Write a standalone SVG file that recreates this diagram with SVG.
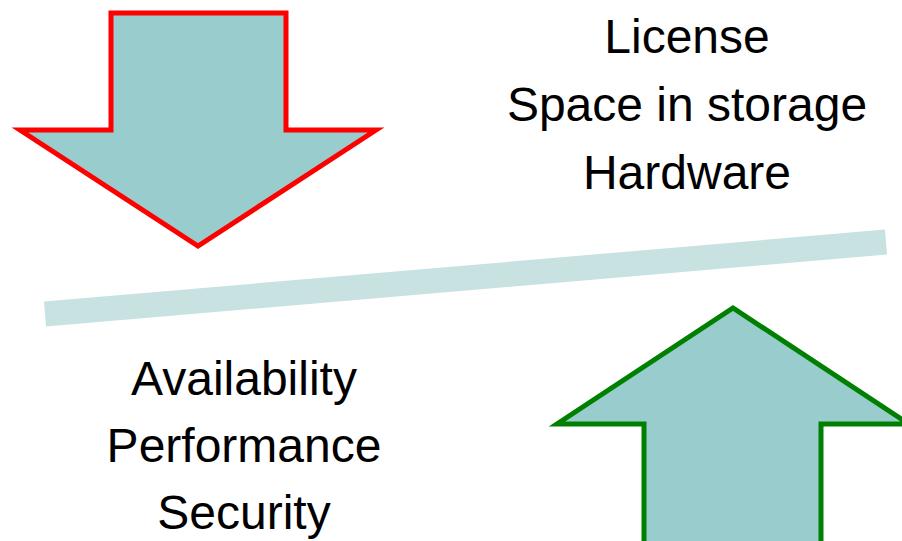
<svg xmlns="http://www.w3.org/2000/svg" width="902" height="541" viewBox="0 0 902 541">
<style>
.arrow{fill:#99CCCC;stroke-width:5;stroke-linejoin:miter;stroke-miterlimit:10}
.lbl{font-family:"Liberation Sans",Arial,sans-serif;font-size:48px;fill:#000;text-anchor:middle}
</style>
<rect width="902" height="541" fill="#fff"/>
<g id="down-arrow">
<polygon class="arrow" stroke="#FF0000" points="111,13 286,13 286,130 376,130 198,246 20,130 111,130"/>
</g>
<g id="up-arrow">
<polygon class="arrow" stroke="#008000" points="644,545 821,545 821,424 909,424 733,308 557,424 644,424"/>
</g>
<g id="balance-bar">
<line x1="45" y1="314" x2="886" y2="242" stroke="#C8E2E2" stroke-width="25"/>
</g>
<g id="costs">
<text class="lbl" x="687" y="53">License</text>
<text class="lbl" x="687" y="121">Space in storage</text>
<text class="lbl" x="687" y="189">Hardware</text>
</g>
<g id="benefits">
<text class="lbl" x="244" y="395">Availability</text>
<text class="lbl" x="244" y="462">Performance</text>
<text class="lbl" x="244" y="529">Security</text>
</g>
<g id="connectors"></g>
</svg>
